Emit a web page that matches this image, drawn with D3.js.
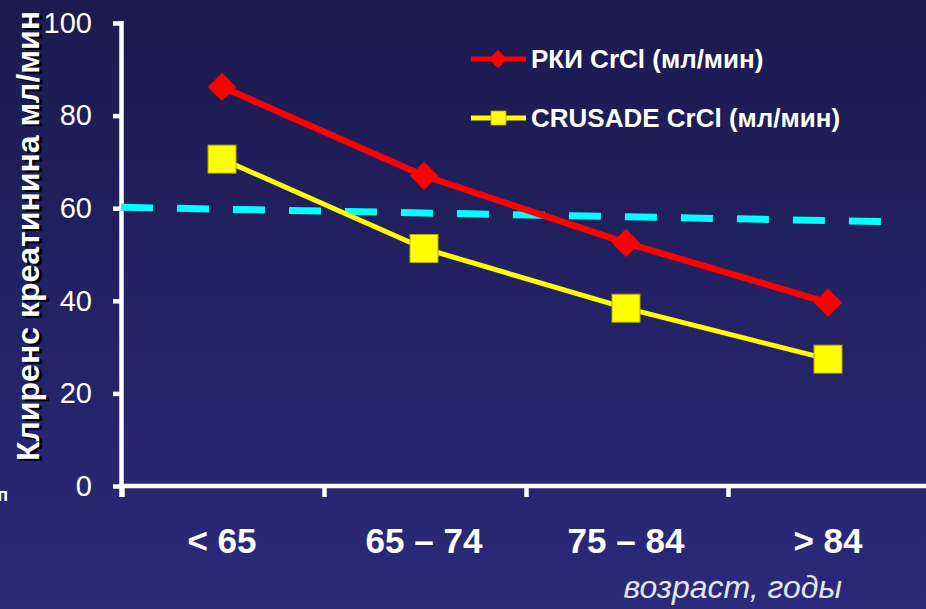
<!DOCTYPE html>
<html><head><meta charset="utf-8">
<script src="https://cdn.jsdelivr.net/npm/d3@7"></script>
<style>
html,body{margin:0;padding:0;overflow:hidden;background:#22215f;}
text{font-family:"Liberation Sans",Arial,sans-serif;}
</style></head>
<body><svg id="c" width="926" height="609"></svg>
<script>
// ---- data ----
const categories = ["< 65", "65 – 74", "75 – 84", "> 84"];
const seriesNames = ["РКИ CrCl (мл/мин)", "CRUSADE CrCl (мл/мин)"];
const rkiValues = [86.2, 67.0, 52.5, 39.6];
const crusadeValues = [70.6, 51.3, 38.4, 27.4];
const refLineValues = [60.2, 57.1];      // dashed threshold line start/end
const refLineSpan = [0, 3.78];           // in category-band units
const yTicks = [0, 20, 40, 60, 80, 100];
const yTitle = "Клиренс креатинина мл/мин";
const xTitle = "возраст, годы";

const svg = d3.select("#c");
const W = 926, H = 609;

// background gradient
const defs = svg.append("defs");
const g = defs.append("linearGradient").attr("id","bg").attr("x1",0).attr("y1",0).attr("x2",0).attr("y2",1);
g.append("stop").attr("offset","0%").attr("stop-color","#1c1a4e");
g.append("stop").attr("offset","100%").attr("stop-color","#2a2a7a");
svg.append("rect").attr("width",W).attr("height",H).attr("fill","url(#bg)");

const x = d3.scaleBand().domain(categories).range([121, 929]).padding(0);
const xl = d3.scaleLinear().domain([0, 4]).range([121, 929]);
const y = d3.scaleLinear().domain([0, 100]).range([486, 23]);
const cx = d => x(d) + x.bandwidth()/2;

// y axis
const yAxis = svg.append("g").attr("transform","translate(121,0)")
  .call(d3.axisLeft(y).tickValues(yTicks).tickSize(8).tickSizeOuter(0).tickPadding(21));
yAxis.select(".domain").remove();
yAxis.attr("font-size",29).attr("font-family","'Liberation Sans',Arial,sans-serif");
yAxis.selectAll(".tick line").attr("stroke","#fff").attr("stroke-width",4.5);
yAxis.selectAll(".tick text").attr("fill","#fff").attr("font-size",29);
svg.append("line").attr("x1",121.5).attr("x2",121.5).attr("y1",y(100)-2).attr("y2",y(0)+11)
  .attr("stroke","#fff").attr("stroke-width",4.5);

// x axis
const xAxis = svg.append("g").attr("transform",`translate(0,${y(0)})`);
xAxis.append("line").attr("x1",121).attr("x2",W).attr("y1",0).attr("y2",0)
  .attr("stroke","#fff").attr("stroke-width",4.5);
xAxis.selectAll("line.tk").data(categories).join("line").attr("class","tk")
  .attr("x1",d=>x(d)+1.5).attr("x2",d=>x(d)+1.5).attr("y1",0).attr("y2",11)
  .attr("stroke","#fff").attr("stroke-width",4.5);
svg.selectAll("text.xl").data(categories).join("text").attr("class","xl")
  .attr("x",d=>cx(d)).attr("y",553).attr("text-anchor","middle")
  .attr("fill","#fff").attr("font-weight","bold").attr("font-size",35).text(d=>d);

// y title with shadow
[["#000",3,2],["#fff",0,0]].forEach(([c,dx,dy])=>{
  svg.append("text").attr("transform",`translate(${39+dx},${236+dy}) rotate(-90)`)
    .attr("text-anchor","middle").attr("fill",c).attr("font-weight","bold")
    .attr("font-size",32).text(yTitle);
});
// partially visible glyph at the left edge
svg.append("text").attr("x",8).attr("y",501).attr("text-anchor","end").attr("fill","#fff")
  .attr("font-weight","bold").attr("font-size",18).text("п");

// x title
svg.append("text").attr("x",842).attr("y",598).attr("text-anchor","end")
  .attr("fill","#e4e4f2").attr("font-style","italic").attr("font-size",32).text(xTitle);

// dashed reference line
svg.append("line").attr("x1",xl(refLineSpan[0])).attr("x2",xl(refLineSpan[1]))
  .attr("y1",y(refLineValues[0])).attr("y2",y(refLineValues[1]))
  .attr("stroke","#00ffff").attr("stroke-width",7).attr("stroke-dasharray","32,24");

// series
const line = d3.line().x((d,i)=>cx(categories[i])).y(d=>y(d));
svg.append("path").datum(crusadeValues).attr("d",line).attr("fill","none")
  .attr("stroke","#ffff00").attr("stroke-width",5);
svg.append("path").datum(rkiValues).attr("d",line).attr("fill","none")
  .attr("stroke","#ff0000").attr("stroke-width",6.5);

const sq = 28, dm = 20;
svg.selectAll("rect.sq").data(crusadeValues).join("rect").attr("class","sq")
  .attr("x",(d,i)=>cx(categories[i])-sq/2).attr("y",d=>y(d)-sq/2)
  .attr("width",sq).attr("height",sq).attr("fill","#ffff00")
  .attr("stroke","#b3a600").attr("stroke-width",1);
svg.selectAll("rect.dm").data(rkiValues).join("rect").attr("class","dm")
  .attr("x",-dm/2).attr("y",-dm/2).attr("width",dm).attr("height",dm)
  .attr("transform",(d,i)=>`translate(${cx(categories[i])},${y(d)}) rotate(45)`)
  .attr("fill","#ff0000");

// legend
const leg = svg.append("g");
const items = [{name:seriesNames[0],color:"#ff0000",shape:"d",yy:59,w:5},
               {name:seriesNames[1],color:"#ffff00",shape:"s",yy:118,w:5}];
items.forEach(it=>{
  leg.append("line").attr("x1",471).attr("x2",526).attr("y1",it.yy).attr("y2",it.yy)
    .attr("stroke",it.color).attr("stroke-width",it.w);
  if(it.shape==="d"){
    leg.append("rect").attr("x",-6.5).attr("y",-6.5).attr("width",13).attr("height",13)
      .attr("transform",`translate(498,${it.yy}) rotate(45)`).attr("fill",it.color);
  } else {
    leg.append("rect").attr("x",491).attr("y",it.yy-7).attr("width",15).attr("height",14)
      .attr("fill",it.color).attr("stroke","#b3a600").attr("stroke-width",0.8);
  }
  leg.append("text").attr("x",531).attr("y",it.yy).attr("dy","0.36em").attr("fill","#fff")
    .attr("font-weight","bold").attr("font-size",26).text(it.name);
});
</script></body></html>
